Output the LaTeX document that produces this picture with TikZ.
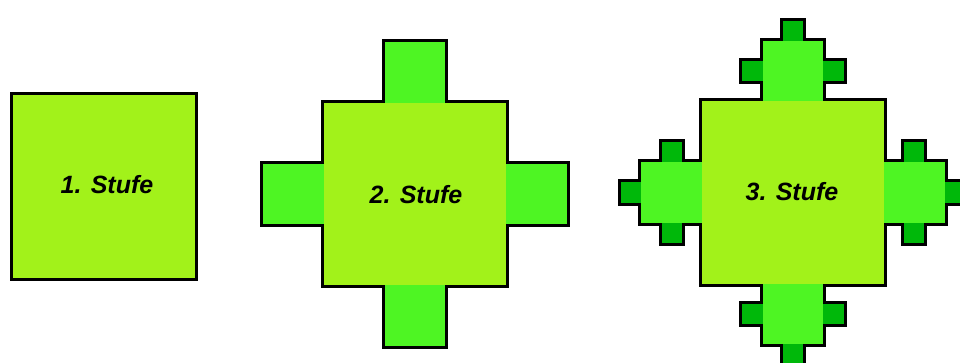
\documentclass[tikz,border=0pt]{standalone}
\usepackage{fontspec}
\setmainfont{Liberation Sans}
\definecolor{cmain}{RGB}{162,242,26}
\definecolor{carm}{RGB}{78,245,35}
\definecolor{cbump}{RGB}{0,184,10}
\tikzset{
  outl/.style={draw=black,line width=6pt,line join=miter},
  lbl/.style={font=\fontsize{25}{30}\selectfont\bfseries\itshape,text=black,inner sep=0pt}
}
\newcommand\sqOut[3]{\path[outl] ({#1-#3},{#2-#3}) rectangle ({#1+#3},{#2+#3});}
\newcommand\sqFill[4]{\path[fill=#4] ({#1-#3},{#2-#3}) rectangle ({#1+#3},{#2+#3});}
\newcommand\stageTwo[3]{% cx cy mode
  \foreach \dx/\dy in {0/-1,0/1,-1/0,1/0}{
    #3{#1+\dx*121.33}{#2+\dy*121.33}{30.33}{carm}
  }
  #3{#1}{#2}{91}{cmain}
}
\newcommand\stageThree[3]{% cx cy mode
  \foreach \dx/\dy in {0/-1,0/1,-1/0,1/0}{
    #3{#1+\dx*161.78}{#2+\dy*161.78}{10.11}{cbump}
    #3{#1+\dx*121.33+\dy*40.44}{#2+\dy*121.33+\dx*40.44}{10.11}{cbump}
    #3{#1+\dx*121.33-\dy*40.44}{#2+\dy*121.33-\dx*40.44}{10.11}{cbump}
    #3{#1+\dx*121.33}{#2+\dy*121.33}{30.33}{carm}
  }
  #3{#1}{#2}{91}{cmain}
}
\newcommand\sqOutC[4]{\sqOut{#1}{#2}{#3}}
\begin{document}
\begin{tikzpicture}[x=1pt,y=-1pt]
\useasboundingbox (0,0) rectangle (960,363);
\clip (0,0) rectangle (960,363);
\fill[white] (0,0) rectangle (960,363);
% outlines
\sqOut{103.5}{186.5}{91}
\stageTwo{415}{194}{\sqOutC}
\stageThree{793}{192.5}{\sqOutC}
% fills
\sqFill{103.5}{186.5}{91}{cmain}
\stageTwo{415}{194}{\sqFill}
\stageThree{793}{192.5}{\sqFill}
% labels
\node[lbl] (s1) at (107,185) {1. Stufe};
\node[lbl] (s2) at (416,195) {2. Stufe};
\node[lbl] (s3) at (792,192) {3. Stufe};
\end{tikzpicture}
\end{document}
